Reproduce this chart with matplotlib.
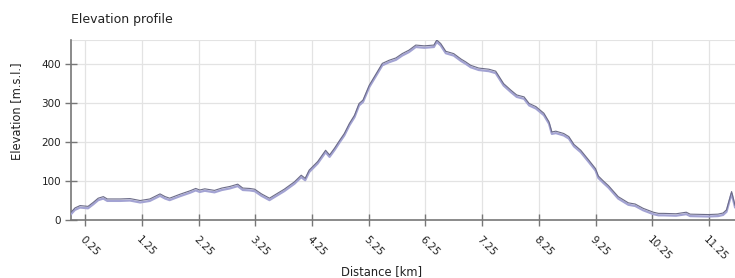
import matplotlib
matplotlib.use("Agg")
import matplotlib.pyplot as plt
import numpy as np

# distance along the track [km] and elevation [m.s.l.]
dist_km = [0.00, 0.07, 0.16, 0.30, 0.39, 0.48, 0.57, 0.64, 0.87, 1.04, 1.22, 1.39,
           1.57, 1.66, 1.74, 1.83, 1.92, 2.10, 2.20, 2.27, 2.36, 2.53, 2.66, 2.80,
           2.94, 3.03, 3.15, 3.24, 3.36, 3.50, 3.59, 3.76, 3.94, 4.06, 4.13, 4.20,
           4.35, 4.49, 4.56, 4.65, 4.74, 4.82, 4.91, 5.00, 5.08, 5.15, 5.26, 5.40,
           5.49, 5.61, 5.73, 5.84, 5.96, 6.08, 6.23, 6.40, 6.45, 6.52, 6.61, 6.75,
           6.88, 6.96, 7.05, 7.19, 7.37, 7.49, 7.63, 7.76, 7.86, 7.99, 8.08, 8.20,
           8.34, 8.43, 8.48, 8.55, 8.69, 8.78, 8.87, 8.99, 9.13, 9.25, 9.30, 9.39,
           9.48, 9.65, 9.83, 9.95, 10.09, 10.27, 10.36, 10.45, 10.67, 10.85, 10.92,
           11.24, 11.41, 11.50, 11.56, 11.65, 11.71]
elev_m = [20, 31, 37, 35, 45, 56, 60, 54, 54, 55, 50, 54,
          67, 60, 56, 61, 66, 75, 81, 77, 80, 76, 82, 86,
          92, 82, 81, 79, 67, 56, 64, 79, 98, 115, 107, 128,
          150, 179, 167, 185, 205, 222, 248, 269, 299, 308, 346, 380,
          402, 410, 416, 427, 436, 449, 447, 449, 462, 453, 433, 427,
          413, 406, 397, 390, 387, 382, 350, 333, 321, 316, 299, 291,
          274, 252, 226, 228, 222, 214, 194, 179, 154, 132, 113, 100,
          88, 60, 44, 41, 30, 20, 17, 17, 16, 20, 15,
          14, 15, 18, 26, 73, 38]

xtick_vals = [0.25, 1.25, 2.25, 3.25, 4.25, 5.25, 6.25, 7.25, 8.25, 9.25, 10.25, 11.25]
ytick_vals = [0, 100, 200, 300, 400]

fig = plt.figure(figsize=(7.35, 2.78), dpi=100)
ax = fig.add_axes([71/735, 1 - 220/278, 1 - 71/735, 180/278])

d = np.array(dist_km)
e = np.array(elev_m)
ax.plot(d, e - 5, color='#a3a3d3', lw=1.6, zorder=3)
ax.plot(d, e, color='#6c6c88', lw=0.8, zorder=4)

ax.set_xlim(0, 11.71)
ax.set_ylim(0, 462)
ax.set_xticks(xtick_vals)
ax.set_xticklabels(['%.2f' % v for v in xtick_vals], rotation=-45, ha='left',
                   va='top', rotation_mode='anchor', fontsize=7.5, color='#222222')
ax.set_yticks(ytick_vals)
ax.set_yticklabels([str(v) for v in ytick_vals], fontsize=7.5, color='#222222')
ax.tick_params(direction='inout', length=8, width=1, color='#777777', pad=3)
ax.tick_params(axis='x', pad=6)

ax.grid(True, color='#e3e3e3', lw=0.9, zorder=0)
ax.axhline(462, color='#e3e3e3', lw=1.5, zorder=0)
for s in ['top', 'right']:
    ax.spines[s].set_visible(False)
for s in ['left', 'bottom']:
    ax.spines[s].set_color('#777777')
    ax.spines[s].set_linewidth(1.2)

# axis titles placed where the reference has them
fig.text(17/735, 1 - 111/278, 'Elevation [m.s.l.]', fontsize=8.3, color='#222222',
         rotation=90, ha='center', va='center')
fig.text(382/735, 1 - 265/278, 'Distance [km]', fontsize=8.3, color='#222222',
         ha='center', va='top')
fig.text(71/735, 1 - 20/278, 'Elevation profile', fontsize=9, color='#222222',
         ha='left', va='center')

fig.savefig('out.png', dpi=100)
